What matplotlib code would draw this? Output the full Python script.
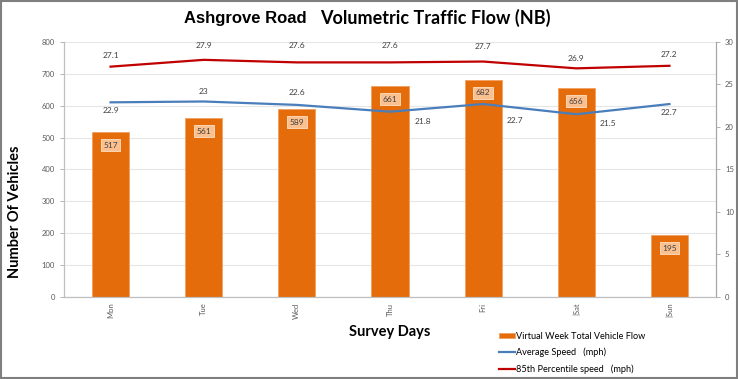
import matplotlib.pyplot as plt
import numpy as np
from matplotlib.patches import Rectangle

days = ["Mon", "Tue", "Wed", "Thu", "Fri", "|Sat", "|Sun"]
vehicle_flow = [517, 561, 589, 661, 682, 656, 195]
avg_speed = [22.9, 23, 22.6, 21.8, 22.7, 21.5, 22.7]
pct85_speed = [27.1, 27.9, 27.6, 27.6, 27.7, 26.9, 27.2]

orange = "#E46C0A"
blue = "#4A7EBB"
red = "#C00000"
grey = "#595959"

plt.rcParams["font.family"] = ["Lato", "DejaVu Sans"]

fig = plt.figure(figsize=(7.38, 3.79), dpi=100)
ax = fig.add_axes([0.0867, 0.2164, 0.8835, 0.6728])
ax2 = ax.twinx()

x = np.arange(len(days))
ax.bar(x, vehicle_flow, width=0.4, color=orange, edgecolor="#F0A060", linewidth=0.6, zorder=2,
       label="Virtual Week Total Vehicle Flow")
ax.set_xlim(-0.5, len(days) - 0.5)
ax.set_ylim(0, 800)
ax.set_yticks(range(0, 801, 100))
ax.grid(axis="y", color="#E6E6E6", linewidth=0.8, zorder=0)
ax.set_axisbelow(True)
ax.set_xticks(x)
ax.set_xticklabels(days, rotation=90, fontsize=5.5, color=grey)
ax.tick_params(axis="y", labelsize=5.5, labelcolor=grey, color="#A6A6A6", length=3, width=0.6)
ax.tick_params(axis="x", length=0, pad=4)

for v, xi in zip(vehicle_flow, x):
    ax.annotate(str(v), (xi, v), xytext=(0, -9.5), textcoords="offset points",
                ha="center", va="center", fontsize=6, color="#404040", zorder=5,
                bbox=dict(boxstyle="square,pad=0.3", fc="#FAC090", ec="#FDE0C5", lw=0.6))

ax2.plot(x, avg_speed, color=blue, linewidth=1.6, label="Average Speed   (mph)", zorder=3)
ax2.plot(x, pct85_speed, color=red, linewidth=1.6, label="85th Percentile speed   (mph)", zorder=3)
ax2.set_ylim(0, 30)
ax2.set_yticks(range(0, 31, 5))
ax2.tick_params(axis="y", labelsize=5.5, labelcolor=grey, color="#A6A6A6", length=3, width=0.6)

# data label offsets in points (dx, dy)
avg_off = [(0, -6), (0, 7), (0, 9), (24, -7), (23, -12), (23, -7), (0, -6)]
pct_off = [(0, 8), (0, 10), (0, 12), (0, 12), (0, 11), (0, 7), (0, 8)]
for xi, v, o in zip(x, avg_speed, avg_off):
    ax2.annotate(f"{v:g}", (xi, v), xytext=o, textcoords="offset points",
                 ha="center", va="center", fontsize=6, color="#404040")
for xi, v, o in zip(x, pct85_speed, pct_off):
    ax2.annotate(f"{v:g}", (xi, v), xytext=o, textcoords="offset points",
                 ha="center", va="center", fontsize=6, color="#404040")

for a in (ax, ax2):
    a.spines["top"].set_visible(False)
    a.spines["left"].set_color("#BFBFBF")
    a.spines["right"].set_color("#A6A6A6")
    a.spines["bottom"].set_color("#BFBFBF")
    a.spines["left"].set_linewidth(0.8)
    a.spines["right"].set_linewidth(0.8)
    a.spines["bottom"].set_linewidth(0.8)

fig.text(0.0203, 0.44, "Number Of Vehicles", rotation=90, ha="center", va="center",
         fontsize=10.5, fontweight="bold", color="black")
fig.text(0.528, 1 - 332 / 379, "Survey Days", ha="center", va="center",
         fontsize=10.5, fontweight="bold", color="black")
fig.text(184 / 738, 1 - 18 / 379, "Ashgrove Road", ha="left", va="center",
         fontsize=12, fontweight="bold", family="Liberation Sans")
fig.text(320 / 738, 1 - 18 / 379, "Volumetric Traffic Flow (NB)", ha="left", va="center",
         fontsize=13, fontweight="bold")

h1, l1 = ax.get_legend_handles_labels()
h2, l2 = ax2.get_legend_handles_labels()
fig.legend(h1 + h2, l1 + l2, loc="upper left", bbox_to_anchor=(494 / 738, 1 - 327 / 379),
           frameon=False, fontsize=6.6, handlelength=1.8, handleheight=0.5, handletextpad=0.1,
           labelspacing=0.78, borderpad=0)

fig.patches.append(Rectangle((0.002, 0.003), 0.996, 0.994, transform=fig.transFigure,
                             fill=False, ec="#7F7F7F", lw=1.5))

fig.savefig("out.png", dpi=100)
